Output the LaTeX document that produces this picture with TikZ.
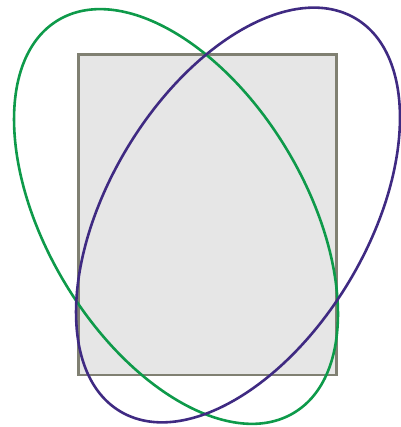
\documentclass[tikz,border=0pt]{standalone}
\definecolor{rectfill}{HTML}{E6E6E6}
\definecolor{rectline}{HTML}{808072}
\definecolor{vgreen}{HTML}{0E9A4A}
\definecolor{vpurple}{HTML}{3F2A82}
\tikzset{
  panel/.style={draw=rectline, fill=rectfill, line width=2.6pt},
  loopg/.style={draw=vgreen, line width=2.6pt},
  loopp/.style={draw=vpurple, line width=2.6pt}
}
\begin{document}
\begin{tikzpicture}[x=1pt,y=1pt]
\useasboundingbox (0,0) rectangle (400,427);
\draw[panel] (78.5,52) rectangle (336.5,372.5);
\draw[loopg, rotate around={31:(176,210.5)}] (176,210.5) ellipse [x radius=129.5, y radius=229];
\draw[loopp, rotate around={-31:(238,212)}] (238,212) ellipse [x radius=129.5, y radius=229];
\end{tikzpicture}
\end{document}
